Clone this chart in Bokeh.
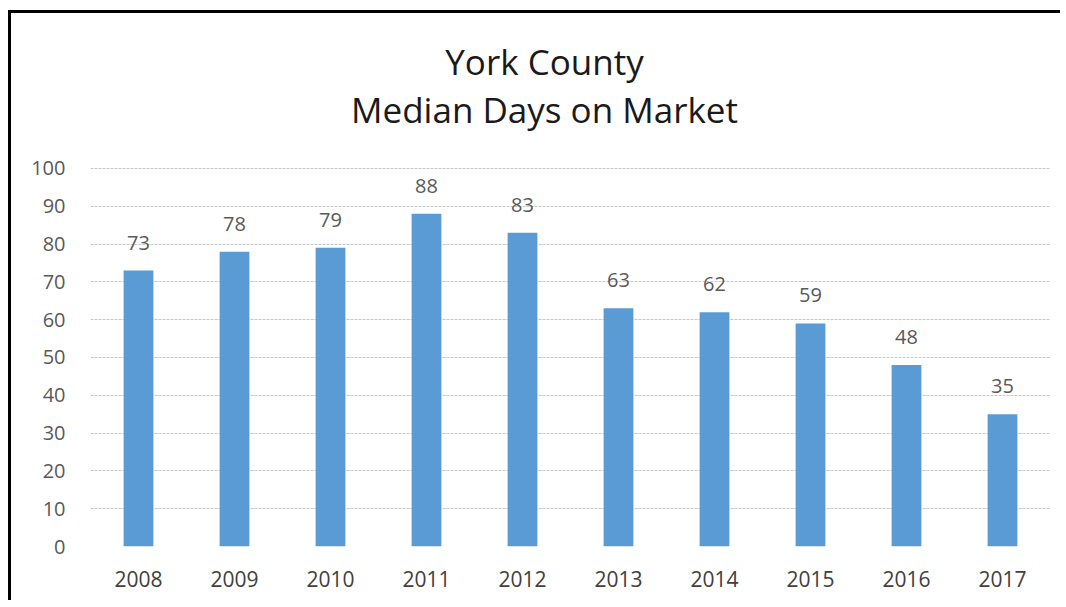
from bokeh.plotting import figure
from bokeh.models import ColumnDataSource, FixedTicker, LabelSet
from bokeh.core.properties import value
from bokeh.embed import file_html
from bokeh.resources import INLINE

years = ["2008", "2009", "2010", "2011", "2012", "2013", "2014", "2015", "2016", "2017"]
median_days = [73, 78, 79, 88, 83, 63, 62, 59, 48, 35]
y_ticks = [0, 10, 20, 30, 40, 50, 60, 70, 80, 90, 100]
title_lines = ["York County", "Median Days on Market"]
title_y = [128.4, 115.6]      # baselines, in axis units (above the 0-100 scale)

FONT = "Open Sans"

src = ColumnDataSource(dict(year=years, days=median_days, lbl=[str(v) for v in median_days]))

p = figure(x_range=years, y_range=(0, 141), width=1052, height=590,
           output_backend="svg", toolbar_location=None,
           min_border_left=79, min_border_top=0, min_border_right=13, min_border_bottom=57)
p.styles = {"border-top": "3px solid black", "border-left": "3px solid black",
            "margin-left": "8px", "margin-top": "10px"}
p.background_fill_color = "white"
p.border_fill_color = "white"
p.outline_line_color = None

p.vbar(x="year", top="days", width=0.31, source=src, color="#5B9BD5", line_color=None)

labels = LabelSet(x="year", y="days", text="lbl", source=src, text_align="center",
                  text_baseline="alphabetic", y_offset=21, text_font=value(FONT),
                  text_font_size="20px", text_color="#595959")
p.add_layout(labels)

# axes
p.yaxis.ticker = FixedTicker(ticks=y_ticks)
p.yaxis.axis_line_color = None
p.yaxis.major_tick_line_color = None
p.yaxis.minor_tick_line_color = None
p.yaxis.major_label_standoff = 19
p.yaxis.major_label_text_font = FONT
p.yaxis.major_label_text_font_size = "20px"
p.yaxis.major_label_text_color = "#595959"

p.xaxis.axis_line_color = None
p.xaxis.major_tick_line_color = None
p.xaxis.major_label_standoff = 18
p.xaxis.major_label_text_font = FONT
p.xaxis.major_label_text_font_size = "21px"
p.xaxis.major_label_text_color = "#404040"

p.xgrid.grid_line_color = None
p.ygrid.ticker = FixedTicker(ticks=y_ticks)
p.ygrid.grid_line_color = "#c8c8c8"
p.ygrid.grid_line_dash = "3 1"
p.ygrid.grid_line_width = 1

# two-line title, centred over the chart
tsrc = ColumnDataSource(dict(x=["2012", "2012"], y=title_y, t=title_lines))
p.text(x="x", y="y", text="t", source=tsrc, x_offset=22, text_align="center",
       text_baseline="alphabetic", text_font=value(FONT), text_font_size="35px",
       text_color="#1a1a1a")

open("out.html", "w").write(file_html(p, INLINE))
